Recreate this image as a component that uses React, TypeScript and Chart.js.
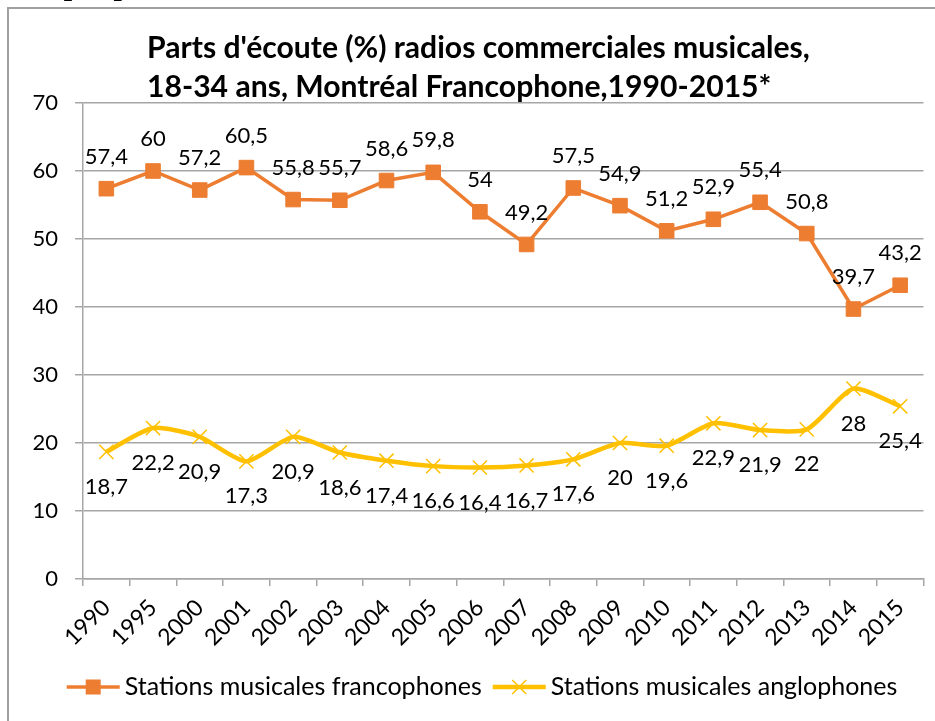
import React, { useEffect, useRef } from "react";
import { Chart, registerables } from "chart.js";

Chart.register(...registerables);

const years = ["1990", "1995", "2000", "2001", "2002", "2003", "2004", "2005", "2006", "2007", "2008", "2009", "2010", "2011", "2012", "2013", "2014", "2015"];
const francophones = [57.4, 60, 57.2, 60.5, 55.8, 55.7, 58.6, 59.8, 54, 49.2, 57.5, 54.9, 51.2, 52.9, 55.4, 50.8, 39.7, 43.2];
const anglophones = [18.7, 22.2, 20.9, 17.3, 20.9, 18.6, 17.4, 16.6, 16.4, 16.7, 17.6, 20, 19.6, 22.9, 21.9, 22, 28, 25.4];
const seriesNames = ["Stations musicales francophones", "Stations musicales anglophones"];
const titleLines = ["Parts d'écoute (%) radios commerciales musicales,", "18-34 ans, Montréal Francophone,1990-2015*"];
const headerText = "Graphique 4 :";
const yMin = 0;
const yMax = 70;
const yStep = 10;

const ORANGE = "#ED7D31";
const YELLOW = "#FFC000";
const GRID = "#A6A6A6";
const FONT = "Lato, 'Open Sans', sans-serif";

const fmt = (v: number) => String(v).replace(".", ",");

const titlePlugin = {
  id: "leftTitle",
  afterDraw(chart: any) {
    const ctx = chart.ctx as CanvasRenderingContext2D;
    ctx.save();
    let size = 25;
    ctx.font = `bold ${size}px ${FONT}`;
    const w = ctx.measureText(titleLines[0]).width;
    size = Math.max(20, Math.min(31, (size * 663) / w));
    ctx.font = `bold ${size}px ${FONT}`;
    ctx.fillStyle = "#000";
    ctx.textAlign = "left";
    ctx.textBaseline = "alphabetic";
    ctx.fillText(titleLines[0], 139, 50);
    ctx.fillText(titleLines[1], 139, 89);
    ctx.restore();
  },
};

const labelsPlugin = {
  id: "valueLabels",
  afterDatasetsDraw(chart: any) {
    const ctx = chart.ctx as CanvasRenderingContext2D;
    ctx.save();
    ctx.font = `22px ${FONT}`;
    ctx.fillStyle = "#000";
    ctx.textAlign = "center";
    ctx.textBaseline = "middle";
    chart.data.datasets.forEach((ds: any, di: number) => {
      const meta = chart.getDatasetMeta(di);
      const off = di === 0 ? -32 : 35;
      meta.data.forEach((pt: any, i: number) => {
        ctx.fillText(fmt(ds.data[i]), pt.x, pt.y + off);
      });
    });
    ctx.restore();
  },
};

const legendPlugin = {
  id: "bottomLegend",
  afterDraw(chart: any) {
    const ctx = chart.ctx as CanvasRenderingContext2D;
    ctx.save();
    ctx.font = `25px ${FONT}`;
    const lineLen = 53;
    const gapText = 5;
    const gapItem = 11;
    const w0 = ctx.measureText(seriesNames[0]).width;
    const w1 = ctx.measureText(seriesNames[1]).width;
    const total = lineLen + gapText + w0 + gapItem + lineLen + gapText + w1;
    const cx = 474;
    const y = 679;
    let x = cx - total / 2;
    // item 1
    ctx.strokeStyle = ORANGE;
    ctx.lineWidth = 3.5;
    ctx.beginPath();
    ctx.moveTo(x, y);
    ctx.lineTo(x + lineLen, y);
    ctx.stroke();
    ctx.fillStyle = ORANGE;
    ctx.fillRect(x + lineLen / 2 - 7.5, y - 7.5, 15, 15);
    ctx.fillStyle = "#000";
    ctx.textAlign = "left";
    ctx.textBaseline = "middle";
    ctx.fillText(seriesNames[0], x + lineLen + gapText, y);
    x += lineLen + gapText + w0 + gapItem;
    // item 2
    ctx.strokeStyle = YELLOW;
    ctx.lineWidth = 4.5;
    ctx.beginPath();
    ctx.moveTo(x, y);
    ctx.lineTo(x + lineLen, y);
    ctx.stroke();
    ctx.lineWidth = 1.5;
    const mx = x + lineLen / 2;
    ctx.beginPath();
    ctx.moveTo(mx - 7, y - 7);
    ctx.lineTo(mx + 7, y + 7);
    ctx.moveTo(mx - 7, y + 7);
    ctx.lineTo(mx + 7, y - 7);
    ctx.stroke();
    ctx.fillStyle = "#000";
    ctx.fillText(seriesNames[1], x + lineLen + gapText, y);
    ctx.restore();
  },
};

export default function App() {
  const ref = useRef<HTMLCanvasElement>(null);
  useEffect(() => {
    const canvas = ref.current;
    if (!canvas) return;
    const chart = new Chart(canvas, {
      type: "line",
      data: {
        labels: years,
        datasets: [
          {
            label: seriesNames[0],
            data: francophones,
            borderColor: ORANGE,
            backgroundColor: ORANGE,
            borderWidth: 3.5,
            pointStyle: "rect",
            pointRadius: 10.3,
            pointBorderWidth: 1,
            pointBorderColor: ORANGE,
            pointBackgroundColor: ORANGE,
            tension: 0,
          },
          {
            label: seriesNames[1],
            data: anglophones,
            borderColor: YELLOW,
            backgroundColor: YELLOW,
            borderWidth: 4.5,
            pointStyle: "crossRot",
            pointRadius: 10,
            pointBorderWidth: 1.5,
            pointBorderColor: YELLOW,
            tension: 0.22,
          },
        ],
      },
      options: {
        animation: false,
        responsive: false,
        devicePixelRatio: 1,
        layout: { padding: { top: 95, right: 8, left: 0, bottom: 0 } },
        plugins: {
          legend: { display: false },
          title: { display: false },
          tooltip: { enabled: false },
        },
        scales: {
          x: {
            offset: true,
            grid: { offset: true, drawOnChartArea: false, drawTicks: true, tickLength: 7, color: GRID, lineWidth: 1.5 },
            border: { color: GRID, width: 1.5 },
            ticks: {
              autoSkip: false,
              maxRotation: 45,
              minRotation: 45,
              color: "#000",
              font: { family: FONT, size: 23 },
              padding: 8,
            },
            afterFit: (s: any) => {
              s.height = 142;
            },
          },
          y: {
            min: yMin,
            max: yMax,
            ticks: {
              stepSize: yStep,
              color: "#000",
              font: { family: FONT, size: 22 },
              padding: 17,
            },
            grid: { color: GRID, lineWidth: 1.5, tickLength: 8, drawTicks: true },
            border: { color: GRID, width: 1.5 },
            afterFit: (s: any) => {
              s.width = 75;
            },
          },
        },
      },
      plugins: [titlePlugin, labelsPlugin, legendPlugin],
    } as any);
    return () => chart.destroy();
  }, []);

  return (
    <div>
      <div
        style={{
          position: "fixed",
          left: 12,
          top: -32,
          font: "bold 30px 'Liberation Serif', 'DejaVu Serif', serif",
          color: "#000",
          lineHeight: "normal",
          whiteSpace: "nowrap",
        }}
      >
        {headerText}
      </div>
      <div
        style={{
          position: "fixed",
          left: 7,
          top: 7,
          width: 960,
          height: 760,
          borderLeft: "2px solid #A0A0A0",
          borderTop: "2px solid #A0A0A0",
          boxSizing: "border-box",
          background: "#fff",
        }}
      />
      <div style={{ position: "fixed", left: 8, top: 8, width: 927, height: 713 }}>
        <canvas ref={ref} width={927} height={713} style={{ display: "block", width: 927, height: 713 }} />
      </div>
    </div>
  );
}
